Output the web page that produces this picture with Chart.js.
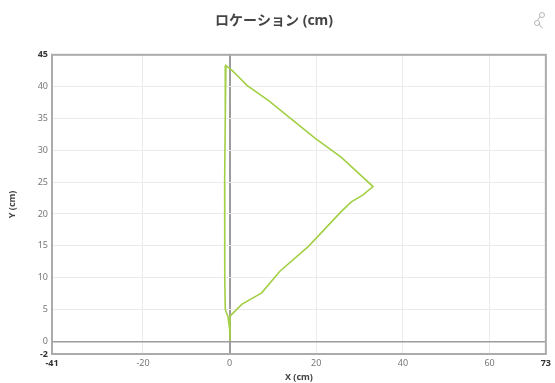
<!DOCTYPE html>
<html><head><meta charset="utf-8">
<script src="https://cdn.jsdelivr.net/npm/chart.js@4"></script>
<style>html,body{margin:0;padding:0;background:#fff}#wrap{width:555px;height:383px}</style>
</head><body><div id="wrap"><canvas id="c" width="555" height="383"></canvas></div>
<script>
const chartTitle = 'ロケーション (cm)';
const xTitle = 'X (cm)';
const yTitle = 'Y (cm)';
const xTicks = [-41, -20, 0, 20, 40, 60, 73];
const yTicks = [-2, 0, 5, 10, 15, 20, 25, 30, 35, 40, 45];
const xValues = [0.2, 0.1, 0.1, 2.8, 7.4, 11.6, 18.2, 25.8, 28.1, 30.8, 33.1, 25.8, 19.7, 9.0, 4.0, 2.0, 0.5, -0.85, -1.0, -1.15, -1.15, -1.1, -1.0, -0.4, 0.0, 0.1];
const yValues = [0.2, 2.0, 3.95, 5.8, 7.6, 11.0, 14.9, 20.4, 21.9, 23.0, 24.3, 28.9, 31.9, 37.8, 40.2, 41.6, 42.6, 43.3, 35.0, 25.0, 18.0, 10.0, 5.0, 3.9, 2.0, 0.3];

const pts = xValues.map((x, i) => ({x: x, y: yValues[i]}));
const FONT = "'Noto Sans', 'Noto Sans CJK JP', sans-serif";

const framePlugin = {
  id: 'frame',
  beforeDatasetsDraw(chart) {
    const a = chart.chartArea, ctx = chart.ctx;
    ctx.save();
    ctx.strokeStyle = '#ababab';
    ctx.lineWidth = 2;
    ctx.strokeRect(a.left, a.top, a.right - a.left, a.bottom - a.top);
    ctx.restore();
  },
  afterDraw(chart) {
    const ctx = chart.ctx;
    ctx.save();
    ctx.strokeStyle = '#b5b5b5';
    ctx.lineWidth = 1;
    ctx.beginPath(); ctx.arc(542, 15, 2.5, 0, Math.PI * 2); ctx.stroke();
    ctx.beginPath(); ctx.arc(537, 23, 2.5, 0, Math.PI * 2); ctx.stroke();
    ctx.beginPath(); ctx.moveTo(540, 16.5); ctx.lineTo(537.5, 20.5); ctx.stroke();
    ctx.beginPath(); ctx.arc(546, 22, 7, Math.PI * 0.65, Math.PI * 0.95); ctx.stroke();
    ctx.restore();
  }
};

const tv = c => (c && c.tick) ? c.tick.value : null;
const isEdge = (v, arr) => v === arr[0] || v === arr[arr.length - 1];

new Chart(document.getElementById('c'), {
  type: 'scatter',
  data: { datasets: [{
    data: pts, showLine: true, borderColor: '#a3cf45', borderWidth: 1.6,
    pointRadius: 0, fill: false, tension: 0
  }]},
  options: {
    responsive: false, animation: false,
    layout: { padding: { left: 0, right: 7, top: 0, bottom: 0 } },
    plugins: {
      legend: { display: false }, tooltip: { enabled: false },
      title: { display: true, text: chartTitle, color: '#444',
        font: { family: FONT, size: 14, weight: 'bold' }, padding: { top: 13, bottom: 25 } }
    },
    scales: {
      x: {
        type: 'linear', min: xTicks[0], max: xTicks[xTicks.length - 1],
        afterBuildTicks: s => { s.ticks = xTicks.map(v => ({value: v})); },
        afterFit: s => { s.height = 29; },
        border: { display: false },
        grid: { drawTicks: false,
          color: c => tv(c) === 0 ? '#9c9c9c' : '#ebebeb',
          lineWidth: c => tv(c) === 0 ? 2 : 1 },
        ticks: { autoSkip: false, maxRotation: 0, padding: 4,
          color: c => isEdge(tv(c), xTicks) ? '#333' : '#777',
          font: c => ({ family: FONT, size: 9, weight: isEdge(tv(c), xTicks) ? 'bold' : 'normal' }) },
        title: { display: true, text: xTitle, color: '#444', padding: { top: 0, bottom: 0 },
          font: { family: FONT, size: 9, weight: 'bold' } }
      },
      y: {
        type: 'linear', min: yTicks[0], max: yTicks[yTicks.length - 1],
        afterBuildTicks: s => { s.ticks = yTicks.map(v => ({value: v})); },
        afterFit: s => { s.width = 52; },
        border: { display: false },
        grid: { drawTicks: false,
          color: c => tv(c) === 0 ? '#9c9c9c' : '#ebebeb',
          lineWidth: c => tv(c) === 0 ? 1.5 : 1 },
        ticks: { autoSkip: false, padding: 4,
          color: c => isEdge(tv(c), yTicks) ? '#333' : '#777',
          font: c => ({ family: FONT, size: 9, weight: isEdge(tv(c), yTicks) ? 'bold' : 'normal' }) },
        title: { display: true, text: yTitle, color: '#444', padding: { top: 7, bottom: 0 },
          font: { family: FONT, size: 9, weight: 'bold' } }
      }
    }
  },
  plugins: [framePlugin]
});
</script></body></html>
